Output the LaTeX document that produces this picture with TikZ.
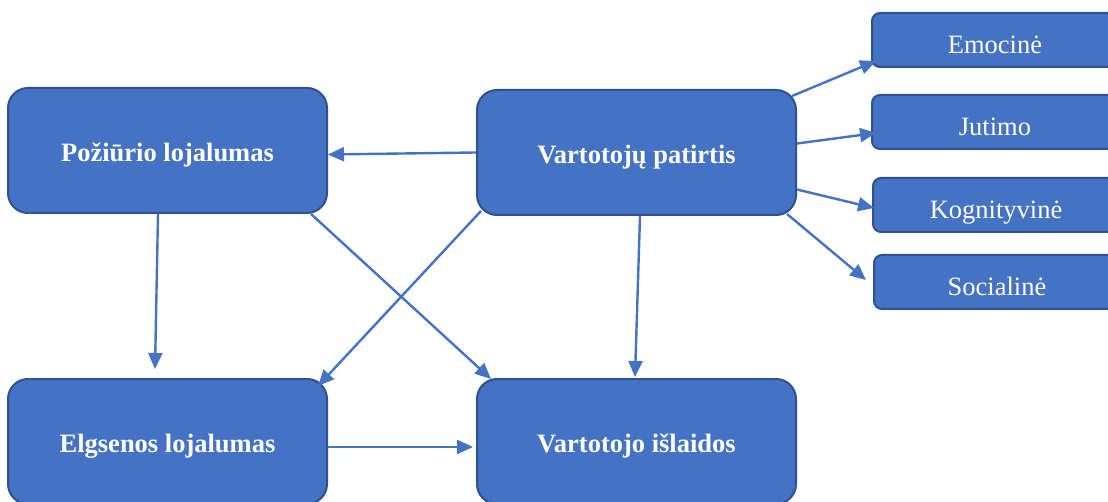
\documentclass[tikz,border=0pt]{standalone}
\usepackage{fontspec}
\setmainfont{Liberation Serif}
\usetikzlibrary{arrows.meta,calc}
\definecolor{boxfill}{HTML}{4472C4}
\definecolor{boxline}{HTML}{2F528F}
\tikzset{
  bigbox/.style={draw=boxline, line width=2pt, fill=boxfill, rounded corners=20pt,
    minimum width=319pt, minimum height=125pt, inner sep=0pt, text=white,
    text height=22pt, text depth=0pt,
    font=\fontsize{26.5}{30}\selectfont\bfseries},
  smallbox/.style={draw=boxline, line width=2pt, fill=boxfill, rounded corners=8pt,
    minimum width=246pt, minimum height=54pt, inner sep=0pt, text=white,
    text height=27pt, text depth=0pt,
    font=\fontsize{26.5}{30}\selectfont},
  conn/.style={draw=boxfill, line width=2.4pt, -{Triangle[length=16pt,width=14pt]}}
}
\begin{document}
\begin{tikzpicture}[x=1pt,y=-1pt]
\useasboundingbox (0,0) rectangle (1108,502);
\clip (0,0) rectangle (1108,502);
\node[bigbox] (pl) at (167.5,150.5) {Požiūrio lojalumas};
\node[bigbox] (vp) at (636.5,152.5) {Vartotojų patirtis};
\node[bigbox] (el) at (167.5,441.5) {Elgsenos lojalumas};
\node[bigbox] (vi) at (636.5,441.5) {Vartotojo išlaidos};
\node[smallbox] (em) at (995,40) {Emocinė};
\node[smallbox] (ju) at (995,122) {Jutimo};
\node[smallbox] (ko) at (996,205) {Kognityvinė};
\node[smallbox] (so) at (997,282) {Socialinė};
\draw[conn] (vp.west) -- ($(pl.east)+(0,4)$);
\draw[conn] ($(pl.south)+(-9.5,0)$) -- ($(el.north)+(-12.5,-9)$);
\draw[conn] ($(pl.south east)+(-17,0)$) -- ($(vi.north west)+(15,1)$);
\draw[conn] ($(vp.south west)+(5,-5)$) -- ($(el.north east)+(-10,8)$);
\draw[conn] ($(vp.south)+(3.5,0)$) -- ($(vi.north)+(-1.5,-1)$);
\draw[conn] ($(el.east)+(0,5.5)$) -- ($(vi.west)+(-3,5.5)$);
\draw[conn] ($(vp.north east)+(-5,7)$) -- ($(em.south west)+(5,-7)$);
\draw[conn] ($(vp.east)+(0,-9)$) -- ($(ju.west)+(5,11)$);
\draw[conn] ($(vp.east)+(0,37)$) -- ($(ko.west)+(2,3)$);
\draw[conn] ($(vp.south east)+(-10,-2)$) -- ($(so.west)+(-7,-2)$);
\end{tikzpicture}
\end{document}
